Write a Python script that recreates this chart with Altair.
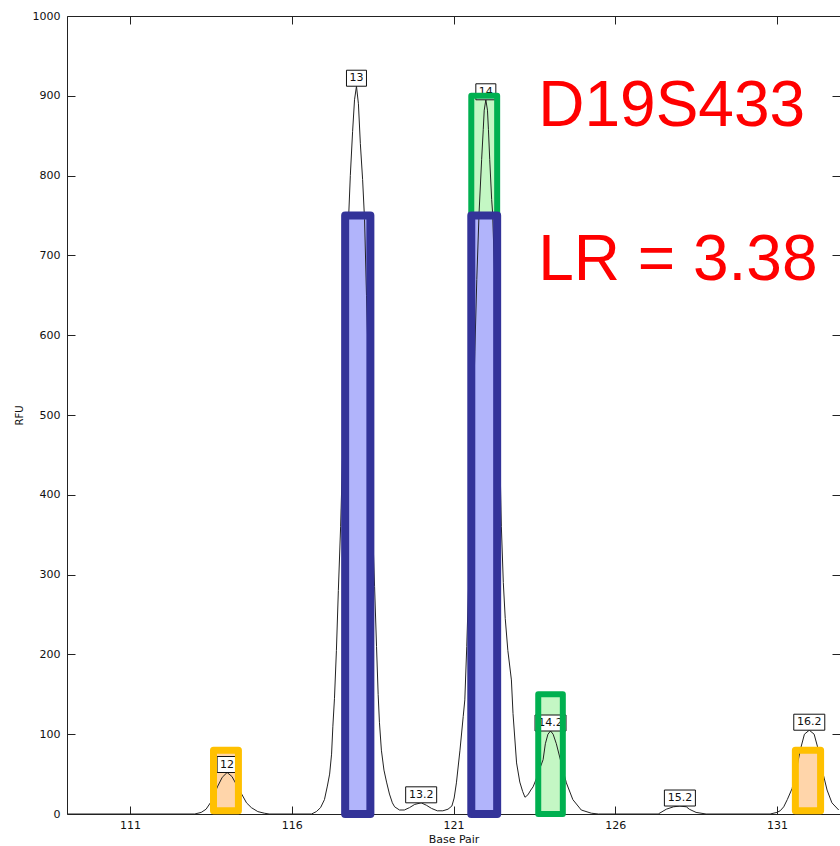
import altair as alt
import pandas as pd

# ---- electropherogram trace (base pair vs RFU) ----
trace_bp = [
    109.05, 113.00,
    113.20, 113.35, 113.50, 113.70, 113.85, 114.00, 114.15, 114.30, 114.45, 114.60, 114.75, 114.95, 115.15, 115.30,
    116.61, 116.76, 116.89, 117.01, 117.10, 117.17, 117.23, 117.27, 117.32, 117.38, 117.44, 117.51, 117.57, 117.63,
    117.69, 117.75, 117.81, 117.88, 117.94, 118.00, 118.06, 118.12, 118.19, 118.25, 118.31, 118.37, 118.43, 118.49,
    118.56, 118.62, 118.67, 118.71, 118.77, 118.85, 118.93, 119.02, 119.11, 119.18, 119.33,
    119.48, 119.64, 119.80, 120.00, 120.16, 120.32, 120.50,
    120.67, 120.83, 120.95, 121.02, 121.09, 121.20, 121.30, 121.35, 121.41, 121.47, 121.54, 121.60, 121.66, 121.72,
    121.79, 121.87, 121.92, 121.95, 122.00, 122.05, 122.08, 122.12, 122.18, 122.21, 122.26, 122.32, 122.37, 122.43,
    122.48, 122.54, 122.60, 122.68, 122.79, 122.84, 122.95, 123.05, 123.14, 123.21, 123.30, 123.39, 123.46, 123.55,
    123.65, 123.77, 123.84, 123.92, 124.00, 124.08, 124.18, 124.33, 124.49, 124.69, 124.95, 125.26, 125.48,
    127.33, 127.58, 127.80, 128.00, 128.20, 128.29, 128.50, 128.81,
    130.79, 131.00, 131.10, 131.21, 131.32, 131.47, 131.60, 131.72, 131.85, 132.00, 132.15, 132.25, 132.40, 132.55,
    132.70, 132.91,
]
trace_rfu = [
    0, 0,
    2, 6, 15, 34, 46, 52, 47, 36, 25, 14, 8, 3, 1, 0,
    0, 3, 8, 18, 35, 50, 75, 110, 145, 205, 280, 360, 450, 545,
    640, 740, 800, 855, 895, 912, 890, 840, 795, 745, 650, 555, 460, 370,
    285, 210, 150, 115, 80, 55, 40, 25, 14, 9, 5,
    5, 8, 12, 14, 11, 7, 4,
    4, 6, 10, 20, 39, 80, 122, 143, 210, 290, 380, 480, 580, 670,
    753, 820, 858, 882, 895, 882, 858, 820, 770, 753, 690, 610, 540, 455,
    360, 290, 245, 205, 168, 126, 64, 40, 28, 21, 24, 30, 34, 43,
    55, 68, 88, 100, 104, 100, 88, 64, 39, 18, 5, 1, 0,
    0, 6, 9, 10, 9, 6, 2, 0,
    0, 2, 4, 9, 18, 32, 55, 80, 100, 105, 100, 85, 55, 30,
    14, 5,
]

# ---- allele calls ----
allele_names = ["12", "13", "13.2", "14", "14.2", "15.2", "16.2"]
allele_bp = [114.0, 118.0, 120.0, 122.0, 124.0, 128.0, 132.0]
allele_rfu = [52, 912, 14, 895, 104, 10, 105]

# ---- highlighted allele bins ----
bin_kind = ["green", "green", "orange", "orange", "blue", "blue"]
bin_x0 = [121.55, 123.62, 113.58, 131.57, 117.65, 121.55]
bin_x1 = [122.35, 124.38, 114.35, 132.35, 118.43, 122.35]
bin_y0 = [0, 0, 4, 4, 0, 0]
bin_y1 = [900, 150, 80, 80, 750, 750]

# ---- annotations ----
note_text = ["D19S433", "LR = 3.38"]
note_bp = [123.62, 123.62]
note_rfu = [862, 669]

trace = pd.DataFrame({"bp": trace_bp, "rfu": trace_rfu})
alleles = pd.DataFrame({"allele": allele_names, "bp": allele_bp, "rfu": allele_rfu})
bins = pd.DataFrame({"kind": bin_kind, "x0": bin_x0, "x1": bin_x1, "y0": bin_y0, "y1": bin_y1})
notes = pd.DataFrame({"text": note_text, "bp": note_bp, "rfu": note_rfu})

W, H = 773, 798
TICK = 8
xs = alt.Scale(domain=[109.05, 132.95], nice=False, zero=False)
ys = alt.Scale(domain=[0, 1000], nice=False, zero=False)

# inward ticks on both sides are drawn as short dashes of the grid lines
x_axis = alt.Axis(
    title="Base Pair", values=[111, 116, 121, 126, 131], format="d",
    ticks=False, tickSize=0, domain=False,
    grid=True, gridDash=[TICK, H - 2 * TICK, TICK, 3000], gridColor="#222", gridOpacity=1, gridWidth=1,
    labelFont="DejaVu Sans", labelFontSize=11, labelColor="#111", labelPadding=5,
    titleFont="DejaVu Sans", titleFontSize=11, titleFontWeight="normal", titleColor="#111", titlePadding=3,
)
y_axis = alt.Axis(
    title="RFU", values=list(range(0, 1001, 100)), format="d",
    ticks=False, tickSize=0, domain=False,
    grid=True, gridDash=[TICK, W - 2 * TICK, TICK, 3000], gridColor="#222", gridOpacity=1, gridWidth=1,
    labelFont="DejaVu Sans", labelFontSize=11, labelColor="#111", labelPadding=7,
    titleFont="DejaVu Sans", titleFontSize=10, titleFontWeight="normal", titleColor="#111", titlePadding=8,
)


def X(field):
    return alt.X(field, type="quantitative", scale=xs, axis=x_axis)


def Y(field):
    return alt.Y(field, type="quantitative", scale=ys, axis=y_axis)


kinds = ["green", "orange", "blue"]
fill_scale = alt.Scale(domain=kinds, range=["#c4f7c4", "#ffd5aa", "#b1b4fb"])
stroke_scale = alt.Scale(domain=kinds, range=["#00b050", "#ffc000", "#333399"])
width_scale = alt.Scale(domain=kinds, range=[6, 8, 6])

bin_fill = alt.Chart(bins).mark_rect(strokeWidth=0).encode(
    x=X("x0"), x2="x1", y=Y("y0"), y2="y1",
    fill=alt.Fill("kind:N", scale=fill_scale, legend=None),
)

line = alt.Chart(trace).mark_line(color="#222", strokeWidth=1, clip=True).encode(
    x=X("bp"), y=Y("rfu"),
)

short = "length(datum.allele) <= 2"
box_short = alt.Chart(alleles).transform_filter(short).mark_rect(
    fill="white", stroke="#111", strokeWidth=1, xOffset=-10, x2Offset=10, yOffset=-16, y2Offset=0,
).encode(x=X("bp"), x2="bp", y=Y("rfu"), y2="rfu")
box_long = alt.Chart(alleles).transform_filter("!(" + short + ")").mark_rect(
    fill="white", stroke="#111", strokeWidth=1, xOffset=-15.5, x2Offset=15.5, yOffset=-16, y2Offset=0,
).encode(x=X("bp"), x2="bp", y=Y("rfu"), y2="rfu")
box_text = alt.Chart(alleles).mark_text(
    font="DejaVu Sans", fontSize=11, color="#111", align="center", baseline="middle", dy=-8,
).encode(x=X("bp"), y=Y("rfu"), text="allele:N")

bin_edge = alt.Chart(bins).mark_rect(fillOpacity=0, strokeJoin="round").encode(
    x=X("x0"), x2="x1", y=Y("y0"), y2="y1",
    stroke=alt.Stroke("kind:N", scale=stroke_scale, legend=None),
    strokeWidth=alt.StrokeWidth("kind:N", scale=width_scale, legend=None),
)

note = alt.Chart(notes).mark_text(
    font="Liberation Sans", fontSize=64, color="#ff0000", align="left", baseline="alphabetic",
).encode(x=X("bp"), y=Y("rfu"), text="text:N")

chart = alt.layer(bin_fill, line, box_short, box_long, box_text, bin_edge, note).properties(
    width=W, height=H,
    autosize=alt.AutoSizeParams(type="none"),
    padding={"left": 67, "top": 16, "right": 0, "bottom": 32},
    background="white",
).resolve_scale(fill="independent", stroke="independent").configure_view(stroke="#222", strokeWidth=1)

chart.save("out.html", embed_options={"renderer": "svg", "actions": False})
